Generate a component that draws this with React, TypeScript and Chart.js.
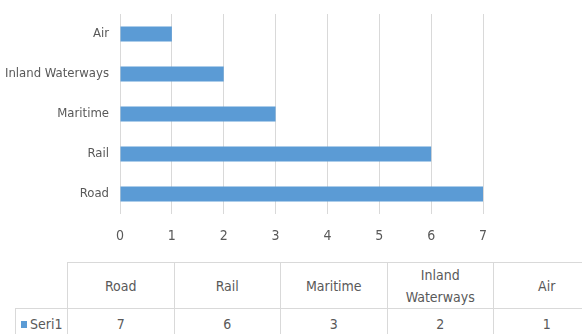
import React, { useEffect, useRef } from "react";
import { Chart, registerables } from "chart.js";

Chart.register(...registerables);

const categories: string[] = ["Road", "Rail", "Maritime", "Inland Waterways", "Air"];
const values: number[] = [7, 6, 3, 2, 1];
const seriesName = "Seri1";
const xMin = 0;
const xMax = 7;
const xStep = 1;

const FONT = '"Liberation Sans Narrow", "DejaVu Sans Condensed", "Roboto", sans-serif';
const TEXT = "#595959";
const GRID = "#d9d9d9";
const BAR = "#5b9bd5";

export default function App() {
  const ref = useRef<HTMLCanvasElement | null>(null);

  useEffect(() => {
    const chart = new Chart(ref.current as HTMLCanvasElement, {
      type: "bar",
      data: {
        labels: categories,
        datasets: [
          {
            label: seriesName,
            data: values,
            backgroundColor: BAR,
            borderWidth: 0,
            categoryPercentage: 1,
            barPercentage: 0.37,
          },
        ],
      },
      options: {
        indexAxis: "y",
        animation: false,
        responsive: false,
        maintainAspectRatio: false,
        layout: { padding: { top: 14, right: 99, left: 0, bottom: 0 } },
        plugins: { legend: { display: false }, tooltip: { enabled: false } },
        scales: {
          x: {
            min: xMin,
            max: xMax,
            ticks: { stepSize: xStep, color: TEXT, font: { family: FONT, size: 14 }, padding: 14 },
            grid: { color: GRID, drawTicks: false },
            border: { display: false },
            afterFit: (s: any) => {
              s.height = 36;
            },
          },
          y: {
            reverse: true,
            ticks: { color: TEXT, font: { family: FONT, size: 13 }, padding: 11 },
            grid: { display: false, drawTicks: false },
            border: { display: false },
            afterFit: (s: any) => {
              s.width = 120;
              s.paddingTop = 0;
              s.paddingBottom = 0;
            },
          },
        },
      },
    });
    return () => chart.destroy();
  }, []);

  const colLeft = 67;
  const colW = 106.5;
  const headTop = 262;
  const headH = 46;
  const rowH = 32;
  const cell: React.CSSProperties = {
    position: "absolute",
    boxSizing: "border-box",
    display: "flex",
    alignItems: "center",
    justifyContent: "center",
    textAlign: "center",
    color: TEXT,
    fontFamily: FONT,
    fontSize: 14,
    lineHeight: "22px",
    padding: "0 14px",
  };

  return (
    <div
      style={{
        position: "fixed",
        left: 0,
        top: 0,
        width: 582,
        height: 334,
        overflow: "hidden",
        background: "#fff",
      }}
    >
      <canvas ref={ref} width={582} height={250} style={{ position: "absolute", left: 0, top: 0 }} />
      {categories.map((c, i) => (
        <div
          key={"h" + i}
          style={{
            ...cell,
            left: colLeft + i * colW,
            top: headTop,
            width: colW + 1,
            height: headH + 1,
            border: `1px solid ${GRID}`,
          }}
        >
          {c}
        </div>
      ))}
      <div
        style={{
          ...cell,
          left: 15,
          top: headTop + headH,
          width: colLeft - 15 + 1,
          height: rowH,
          border: `1px solid ${GRID}`,
          justifyContent: "flex-start",
          padding: "0 0 0 5px",
        }}
      >
        <span style={{ display: "inline-block", width: 6, height: 7, background: BAR, marginRight: 3 }} />
        {seriesName}
      </div>
      {values.map((v, i) => (
        <div
          key={"v" + i}
          style={{
            ...cell,
            left: colLeft + i * colW,
            top: headTop + headH,
            width: colW + 1,
            height: rowH,
            border: `1px solid ${GRID}`,
          }}
        >
          {v}
        </div>
      ))}
    </div>
  );
}
